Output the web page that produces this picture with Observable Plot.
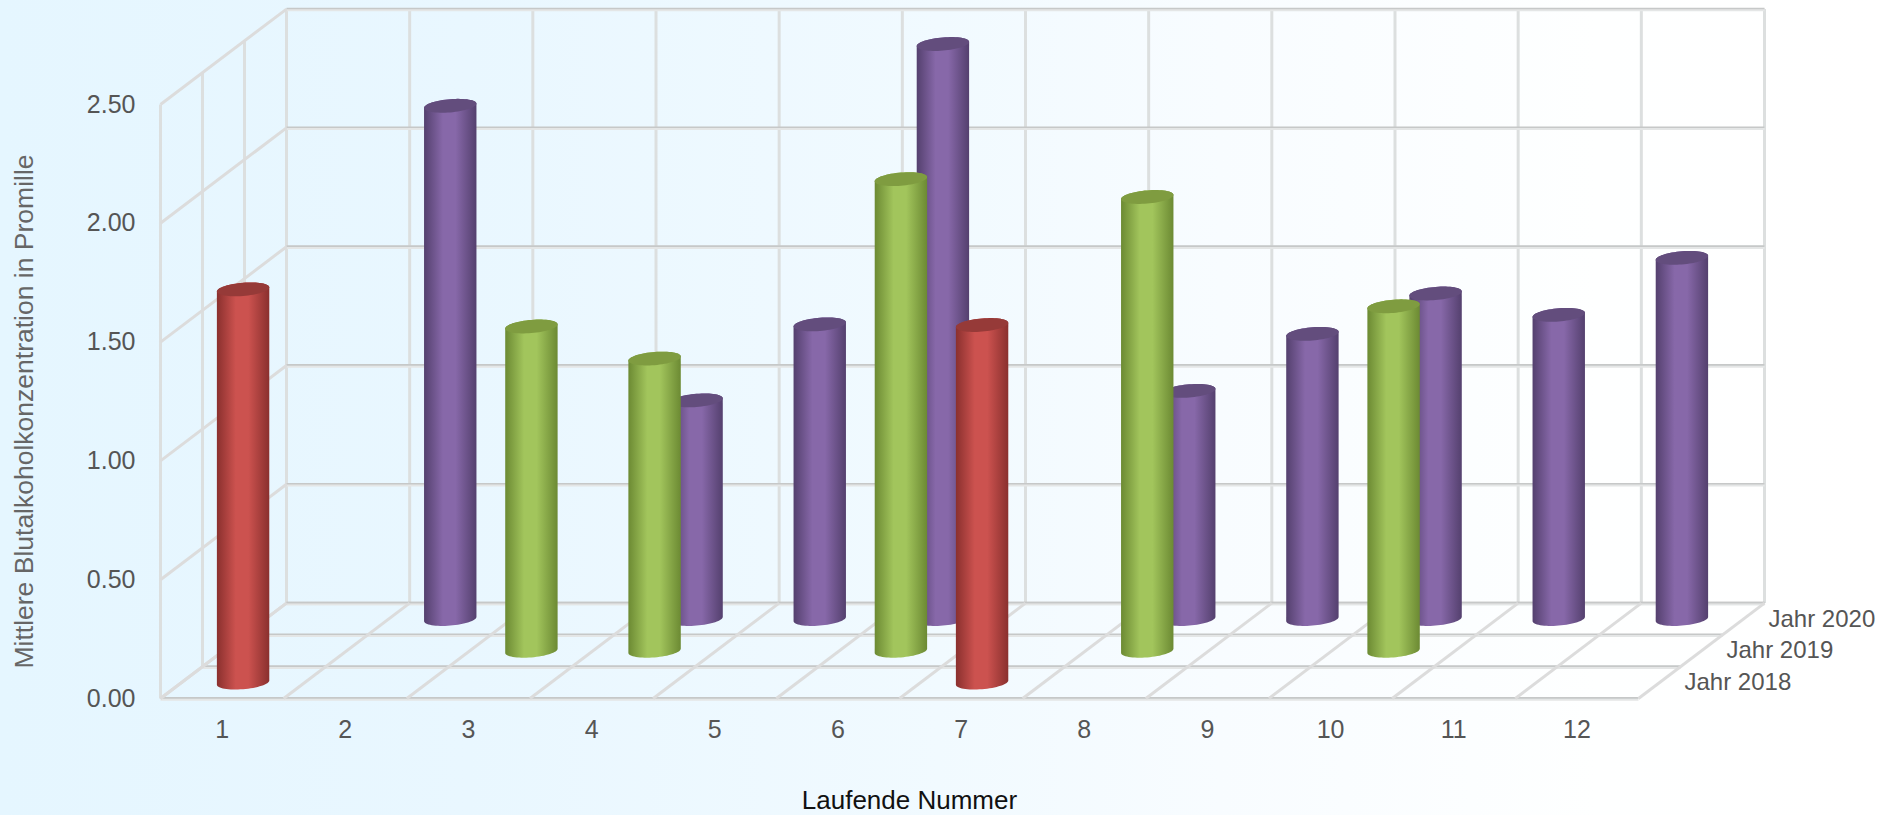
<!DOCTYPE html>
<html><head><meta charset="utf-8">
<script src="https://cdn.jsdelivr.net/npm/d3@7"></script>
<script src="https://cdn.jsdelivr.net/npm/@observablehq/plot@0.6"></script>
<style>
html,body{margin:0;padding:0;width:1878px;height:815px;overflow:hidden;background:#fff}
#c{width:1878px;height:815px;background:linear-gradient(90deg,#e5f6ff 0%,#e9f7ff 25%,#f1faff 50%,#f8fcff 65%,#feffff 85%,#fff 100%)}
svg{display:block;background:transparent!important}
</style></head><body><div id="c"></div>
<script>
const categories=[1,2,3,4,5,6,7,8,9,10,11,12];
const years=["Jahr 2018","Jahr 2019","Jahr 2020"];
const values2018=[1.655,null,null,null,null,null,1.505,null,null,null,null,null];
const values2019=[null,null,1.365,1.23,null,1.985,null,1.91,null,1.45,null,null];
const values2020=[null,2.16,null,0.92,1.24,2.42,null,0.96,1.20,1.37,1.28,1.52];
const yTicks=[0,0.5,1,1.5,2,2.5];

// projection constants of the 3D box, expressed in data units
const pxX=123.17, pxY=237.6;
const kx=42/pxX, ky=31.8/pxY;          // shift per depth row
const rx=26.2/pxX, ry=6.6/pxY, tilt=2.1/pxY; // cylinder
const depths=[0,1,2,3];
const px=(i,d)=>i+d*kx, py=(v,d)=>v+d*ky;

const across=[],slanted=[],upright=[];
for(const v of yTicks){
  slanted.push({x1:px(0,0),y1:py(v,0),x2:px(0,3),y2:py(v,3)});
  across.push({x1:px(0,3),y1:py(v,3),x2:px(12,3),y2:py(v,3)});
}
for(const d of depths){
  upright.push({x1:px(0,d),y1:py(0,d),x2:px(0,d),y2:py(2.5,d)});
  across.push({x1:px(0,d),y1:py(0,d),x2:px(12,d),y2:py(0,d)});
}
for(let i=0;i<=12;i++){
  upright.push({x1:px(i,3),y1:py(0,3),x2:px(i,3),y2:py(2.5,3)});
  slanted.push({x1:px(i,0),y1:py(0,0),x2:px(i,3),y2:py(0,3)});
}

function shape(values,depth){
  const body=[],cap=[];
  values.forEach((v,i)=>{
    if(v==null) return;
    const cx=px(i+0.5,depth), b=py(0,depth), t=py(v,depth);
    const N=32;
    const at=(a,base)=>({id:i,x:cx+rx*Math.cos(a),y:base+ry*Math.sin(a)+tilt*Math.cos(a)});
    for(let k=0;k<=N;k++) body.push(at(Math.PI*k/N,t));
    for(let k=0;k<=N;k++) body.push(at(Math.PI+Math.PI*k/N,b));
    for(let k=0;k<=2*N;k++) cap.push(at(Math.PI*k/N,t));
  });
  return {body,cap};
}
const series=[
 {values:values2020,depth:2.5,grad:"gP",cap:"#634d7d"},
 {values:values2019,depth:1.5,grad:"gG",cap:"#7f9c40"},
 {values:values2018,depth:0.5,grad:"gR",cap:"#963a38"}
];
const gradients={gP:["#54406e","#8768a9"],gG:["#6c8a33","#a2c55c"],gR:["#8a302e","#cc524f"]};
const defsMark=()=>{
  const defs=d3.create("svg:defs");
  for(const [id,[e,m]] of Object.entries(gradients)){
    const g=defs.append("linearGradient").attr("id",id).attr("x1",0).attr("x2",1).attr("y1",0).attr("y2",0);
    [[0,e],[0.36,m],[0.6,m],[1,e]].forEach(([o,c])=>g.append("stop").attr("offset",o).attr("stop-color",c));
  }
  return defs.node();
};
const F="Liberation Sans, Arial, sans-serif";
const linkOpts={x1:"x1",y1:"y1",x2:"x2",y2:"y2"};
const marks=[
  defsMark,
  Plot.link(upright,{...linkOpts,stroke:"#dcdfdf",strokeWidth:3}),
  Plot.link(across,{...linkOpts,stroke:"#e4e6e6",strokeWidth:3.2,dy:0.6}),
  Plot.link(across,{...linkOpts,stroke:"#c6c8c8",strokeWidth:1.6,dy:-0.6}),
  Plot.link(slanted,{...linkOpts,stroke:"#dcdcdc",strokeWidth:3}),
  Plot.axisX({ticks:categories.map(c=>c-0.5),tickFormat:d=>String(d+0.5),tickSize:0,tickPadding:22,label:null,fontSize:25,color:"#555"}),
  Plot.axisY({ticks:yTicks,tickFormat:d3.format(".2f"),tickSize:0,tickPadding:25,label:null,fontSize:25,color:"#555"}),
  Plot.text(["Laufende Nummer"],{x:()=>(909-160)/pxX,y:()=>-(800-698)/pxY,fontSize:26,fill:"#111",fontFamily:F}),
  Plot.text(["Mittlere Blutalkoholkonzentration in Promille"],{x:()=>(24-160)/pxX,y:()=>(698-411)/pxY,rotate:-90,fontSize:26.5,fill:"#666",fontFamily:F}),
  Plot.text(years,{x:(d,i)=>px(12,i+0.5),y:(d,i)=>py(0,i+0.5),dx:25,textAnchor:"start",fontSize:24,fill:"#555",fontFamily:F})
];
for(const s of series){
  const {body,cap}=shape(s.values,s.depth);
  marks.push(Plot.line(body,{x:"x",y:"y",z:"id",curve:"linear-closed",fill:`url(#${s.grad})`,stroke:"none"}));
  marks.push(Plot.line(cap,{x:"x",y:"y",z:"id",curve:"linear-closed",fill:s.cap,stroke:"none"}));
}
const chart=Plot.plot({
  width:1878,height:815,marginLeft:160,marginRight:240,marginTop:104,marginBottom:117,
  style:{fontFamily:F,background:"transparent"},
  x:{type:"linear",domain:[0,12]},y:{type:"linear",domain:[0,2.5]},
  marks
});
document.getElementById("c").appendChild(chart);
</script></body></html>
